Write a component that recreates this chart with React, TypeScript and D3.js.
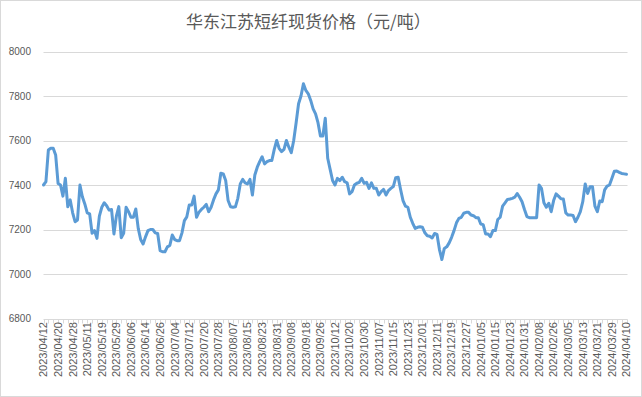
import * as d3 from "d3";
import { useEffect, useRef } from "react";

const TITLE = "华东江苏短纤现货价格（元/吨）";

// one label every 6 trading days
const TICK_LABELS = [
  "2023/04/12", "2023/04/20", "2023/04/28", "2023/05/11", "2023/05/19",
  "2023/05/29", "2023/06/06", "2023/06/14", "2023/06/26", "2023/07/04",
  "2023/07/12", "2023/07/20", "2023/07/28", "2023/08/07", "2023/08/15",
  "2023/08/23", "2023/08/31", "2023/09/08", "2023/09/18", "2023/09/26",
  "2023/10/12", "2023/10/20", "2023/10/30", "2023/11/07", "2023/11/15",
  "2023/11/23", "2023/12/01", "2023/12/11", "2023/12/19", "2023/12/27",
  "2024/01/05", "2024/01/15", "2024/01/23", "2024/01/31", "2024/02/08",
  "2024/02/26", "2024/03/05", "2024/03/13", "2024/03/21", "2024/03/29",
  "2024/04/10",
];

const PRICES = [
  7400, 7415, 7557, 7565, 7565, 7535, 7407, 7400, 7350, 7430,
  7302, 7333, 7275, 7235, 7243, 7400, 7347, 7315, 7275, 7270,
  7183, 7195, 7160, 7260, 7300, 7320, 7307, 7287, 7290, 7180,
  7260, 7303, 7163, 7183, 7300, 7280, 7255, 7255, 7292, 7205,
  7155, 7135, 7167, 7195, 7200, 7200, 7185, 7182, 7105, 7100,
  7100, 7122, 7128, 7175, 7155, 7150, 7150, 7185, 7240, 7257,
  7310, 7310, 7350, 7255, 7278, 7290, 7300, 7313, 7280, 7300,
  7333, 7360, 7378, 7453, 7450, 7420, 7330, 7302, 7300, 7302,
  7340, 7405, 7425, 7410, 7405, 7425, 7355, 7445, 7480, 7505,
  7527, 7495, 7505, 7510, 7510, 7560, 7600, 7565, 7550, 7560,
  7600, 7570, 7545, 7600, 7680, 7765, 7800, 7855, 7825, 7810,
  7780, 7742, 7720, 7680, 7620, 7620, 7700, 7520, 7470, 7420,
  7400, 7430, 7420, 7435, 7415, 7410, 7360, 7370, 7400, 7408,
  7412, 7430, 7408, 7412, 7385, 7410, 7385, 7385, 7355, 7370,
  7380, 7355, 7375, 7385, 7393, 7433, 7435, 7380, 7330, 7305,
  7300, 7255, 7228, 7205, 7210, 7212, 7210, 7185, 7172, 7170,
  7162, 7182, 7178, 7110, 7065, 7115, 7122, 7140, 7165, 7195,
  7230, 7250, 7255, 7273, 7277, 7277, 7265, 7262, 7253, 7253,
  7225, 7222, 7180, 7180, 7168, 7195, 7195, 7245, 7255, 7305,
  7320, 7335, 7337, 7340, 7345, 7362, 7345, 7325, 7290, 7258,
  7253, 7253, 7253, 7253, 7400, 7385, 7320, 7300, 7318, 7280,
  7330, 7360, 7350, 7338, 7337, 7275, 7265, 7265, 7263, 7235,
  7255, 7280, 7325, 7405, 7362, 7392, 7392, 7305, 7280, 7328,
  7325, 7378, 7395, 7400, 7430, 7462, 7463, 7457, 7452, 7450, 7448,
];

const Y_TICKS = [6800, 7000, 7200, 7400, 7600, 7800, 8000];
const LABEL_STEP = 6;

const WIDTH = 642;
const HEIGHT = 397;

const App = () => {
  const svgRef = useRef<SVGSVGElement>(null);

  useEffect(() => {
    if (!svgRef.current) return;
    const svg = d3.select(svgRef.current);
    svg.selectAll("*").remove();

    const left = 43.5;
    const right = 626.5;
    const top = 51.5;
    const bottom = 318.5;

    const x = d3.scaleLinear().domain([0, PRICES.length - 1]).range([left, right]);
    const y = d3.scaleLinear().domain([6800, 8000]).range([bottom, top]);

    svg
      .append("rect")
      .attr("x", 0.5)
      .attr("y", 0.5)
      .attr("width", WIDTH - 1)
      .attr("height", HEIGHT - 1)
      .attr("fill", "#fff")
      .attr("stroke", "#d9d9d9");

    svg
      .append("text")
      .attr("x", 186)
      .attr("y", 22)
      .attr("dy", "0.35em")
      .attr("text-anchor", "start")
      .attr("fill", "#595959")
      .attr("font-family", "'Noto Sans CJK SC', sans-serif")
      .attr("font-size", 17)
      .text(TITLE);

    // gridlines
    svg
      .append("g")
      .selectAll("line")
      .data(Y_TICKS)
      .enter()
      .append("line")
      .attr("x1", left)
      .attr("x2", right + 1)
      .attr("y1", (d) => Math.round(y(d)) + 0.5)
      .attr("y2", (d) => Math.round(y(d)) + 0.5)
      .attr("stroke", "#d9d9d9")
      .attr("stroke-width", 1);

    svg
      .append("g")
      .selectAll("text")
      .data(Y_TICKS)
      .enter()
      .append("text")
      .attr("x", 31)
      .attr("y", (d) => y(d))
      .attr("dy", "0.35em")
      .attr("text-anchor", "end")
      .attr("fill", "#595959")
      .attr("font-family", "'Liberation Sans', Arial, sans-serif")
      .attr("font-size", 10)
      .text((d) => d);

    // minor ticks on the category axis, every 2 points
    const axisY = Math.round(y(6800)) + 0.5;
    svg
      .append("g")
      .selectAll("line")
      .data(d3.range(0, PRICES.length, 2))
      .enter()
      .append("line")
      .attr("x1", (d) => Math.round(x(d)) + 0.5)
      .attr("x2", (d) => Math.round(x(d)) + 0.5)
      .attr("y1", axisY)
      .attr("y2", axisY + 4)
      .attr("stroke", "#d9d9d9");

    svg
      .append("g")
      .selectAll("text")
      .data(TICK_LABELS)
      .enter()
      .append("text")
      .attr("transform", (_, i) => `translate(${x(i * LABEL_STEP)}, 322) rotate(-90)`)
      .attr("dy", "0.35em")
      .attr("text-anchor", "end")
      .attr("fill", "#595959")
      .attr("font-family", "'Liberation Sans', Arial, sans-serif")
      .attr("font-size", 11)
      .text((d) => d);

    const line = d3
      .line<number>()
      .x((_, i) => x(i))
      .y((d) => y(d));

    svg
      .append("path")
      .datum(PRICES)
      .attr("d", line)
      .attr("fill", "none")
      .attr("stroke", "#5b9bd5")
      .attr("stroke-width", 3)
      .attr("stroke-linejoin", "round")
      .attr("stroke-linecap", "round");
  }, []);

  return (
    <svg
      ref={svgRef}
      width={WIDTH}
      height={HEIGHT}
      style={{ position: "absolute", left: 0, top: 0 }}
    />
  );
};

export default App;
